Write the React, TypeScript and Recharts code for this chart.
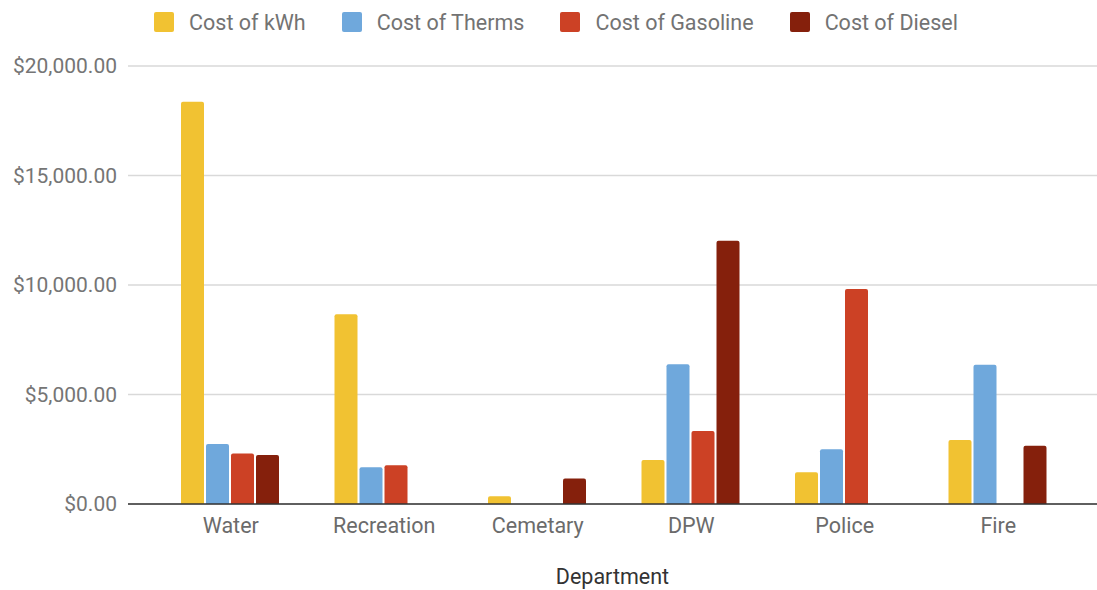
import { BarChart, Bar, XAxis, YAxis, CartesianGrid, Legend } from 'recharts'

const departments = ['Water', 'Recreation', 'Cemetary', 'DPW', 'Police', 'Fire']
const costKwh = [18370, 8660, 350, 2010, 1450, 2920]
const costTherms = [2740, 1680, 0, 6380, 2500, 6360]
const costGasoline = [2310, 1770, 0, 3330, 9820, 0]
const costDiesel = [2240, 0, 1170, 12020, 0, 2660]
const yTicks = [0, 5000, 10000, 15000, 20000]

const series = [
  { key: 'kwh', name: 'Cost of kWh', color: '#F1C232' },
  { key: 'therms', name: 'Cost of Therms', color: '#6FA8DC' },
  { key: 'gasoline', name: 'Cost of Gasoline', color: '#CC4125' },
  { key: 'diesel', name: 'Cost of Diesel', color: '#85200C' },
]

const data = departments.map((d, i) => ({
  department: d,
  kwh: costKwh[i],
  therms: costTherms[i],
  gasoline: costGasoline[i],
  diesel: costDiesel[i],
}))

const FONT = 'Roboto, "Noto Sans", sans-serif'

const money = (v: number) =>
  '$' + v.toLocaleString('en-US', { minimumFractionDigits: 2, maximumFractionDigits: 2 })

function LegendContent() {
  return (
    <div
      style={{
        display: 'flex',
        justifyContent: 'center',
        alignItems: 'center',
        height: 44,
        paddingLeft: 51,
        fontFamily: FONT,
        fontSize: 21.5,
        color: '#737373',
      }}
    >
      {series.map((s) => (
        <div key={s.key} style={{ display: 'flex', alignItems: 'center', marginRight: 36 }}>
          <span
            style={{
              display: 'inline-block',
              width: 20,
              height: 20,
              borderRadius: 2,
              background: s.color,
              marginRight: 15,
            }}
          />
          <span>{s.name}</span>
        </div>
      ))}
    </div>
  )
}

export default function App() {
  return (
    <div style={{ position: 'absolute', left: 0, top: 0, width: 1097, height: 590, background: '#fff' }}>
      <BarChart
        width={1097}
        height={590}
        data={data}
        margin={{ top: 22, right: 0, bottom: 0, left: 0 }}
        barCategoryGap={27}
        barGap={2}
      >
        <CartesianGrid vertical={false} stroke="#d9d9d9" strokeWidth={1.5} />
        <XAxis
          dataKey="department"
          height={86}
          padding={{ left: 26, right: 22 }}
          axisLine={{ stroke: '#333', strokeWidth: 1.5 }}
          tickLine={false}
          tickSize={0}
          tickMargin={14}
          tick={{ fill: '#6b6b6b', fontSize: 21.5, fontFamily: FONT }}
          label={{
            value: 'Department',
            position: 'insideBottom',
            offset: 6,
            fill: '#333',
            fontSize: 21.5,
            fontFamily: FONT,
          }}
        />
        <YAxis
          width={128}
          domain={[0, 20000]}
          ticks={yTicks}
          tickFormatter={money}
          axisLine={false}
          tickLine={false}
          tickSize={0}
          tickMargin={11}
          tick={{ fill: '#757575', fontSize: 21, fontFamily: FONT }}
        />
        <Legend verticalAlign="top" wrapperStyle={{ top: 0, height: 44 }} content={<LegendContent />} />
        {series.map((s) => (
          <Bar
            key={s.key}
            dataKey={s.key}
            name={s.name}
            fill={s.color}
            radius={[2, 2, 0, 0]}
            isAnimationActive={false}
          />
        ))}
      </BarChart>
    </div>
  )
}
